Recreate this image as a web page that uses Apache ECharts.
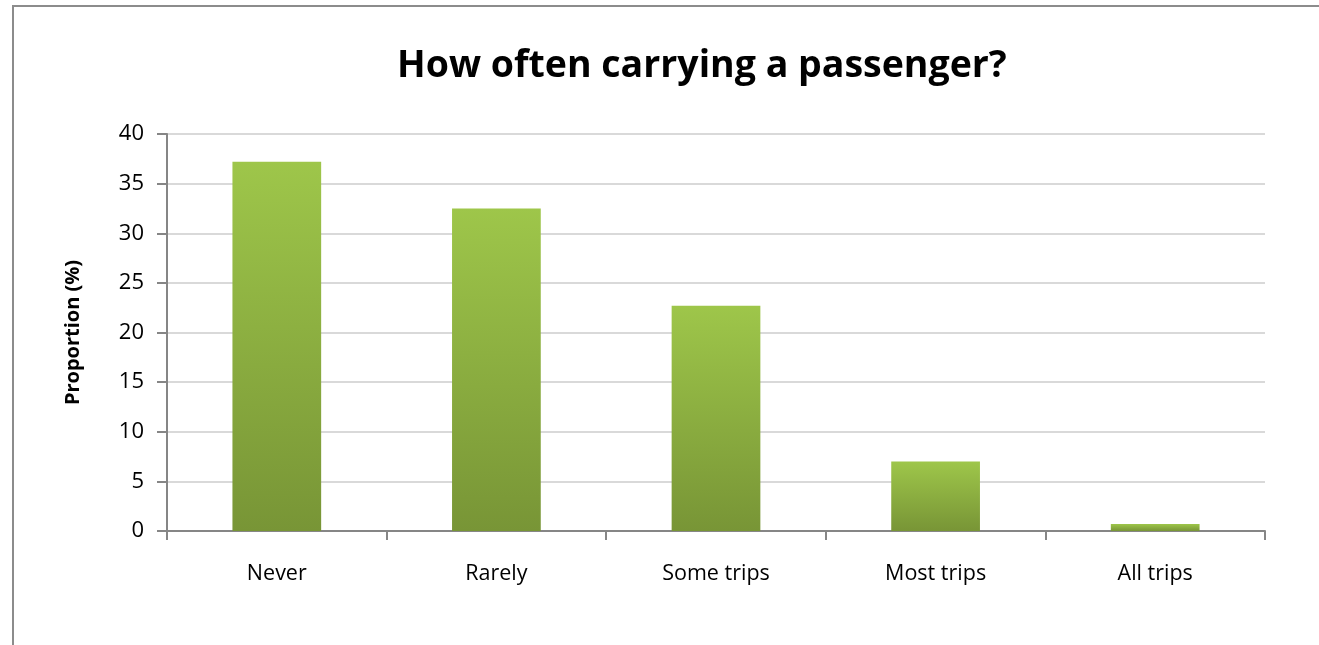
<!DOCTYPE html>
<html>
<head>
<meta charset="utf-8">
<script src="https://cdn.jsdelivr.net/npm/echarts@6/dist/echarts.min.js"></script>
<style>
  html, body { margin: 0; padding: 0; background: #fff; }
  #frame { position: absolute; left: 12px; top: 5px; width: 1310px; height: 645px;
           border-left: 2px solid #8c8c8c; border-top: 2px solid #8c8c8c; box-sizing: border-box; }
  #chart { position: absolute; left: 0; top: 0; width: 1319px; height: 645px; }
</style>
</head>
<body>
<div id="frame"></div>
<div id="chart"></div>
<script>
// Share of riders by how often they carry a passenger
const categories = ['Never', 'Rarely', 'Some trips', 'Most trips', 'All trips'];
const proportions = [37.2, 32.5, 22.7, 7.0, 0.7];
const yTicks = [0, 5, 10, 15, 20, 25, 30, 35, 40];

const chart = echarts.init(document.getElementById('chart'), null, { renderer: 'canvas' });
const fontFamily = '"Open Sans", Lato, sans-serif';

chart.setOption({
  animation: false,
  title: {
    text: 'How often carrying a passenger?',
    left: 392,
    top: 42,
    textStyle: { fontFamily, fontWeight: 'bold', fontSize: 37.5, color: '#000' }
  },
  grid: { left: 167, right: 54, top: 134, bottom: 114, containLabel: false },
  xAxis: {
    type: 'category',
    data: categories,
    axisLine: { lineStyle: { color: '#868686', width: 2 } },
    axisTick: { show: true, length: 9, alignWithLabel: false, lineStyle: { color: '#868686', width: 2 } },
    axisLabel: { fontFamily, fontSize: 21.5, color: '#000', margin: 32 }
  },
  yAxis: {
    type: 'value',
    min: yTicks[0],
    max: yTicks[yTicks.length - 1],
    interval: 5,
    name: 'Proportion (%)',
    nameLocation: 'middle',
    nameRotate: 90,
    nameGap: 84,
    nameTextStyle: { fontFamily, fontWeight: 'bold', fontSize: 20, color: '#000' },
    axisLine: { show: true, lineStyle: { color: '#868686', width: 2 } },
    axisTick: { show: true, length: 10, lineStyle: { color: '#868686', width: 2 } },
    axisLabel: { fontFamily, fontSize: 22, color: '#000', margin: 23 },
    splitLine: { lineStyle: { color: '#d9d9d9', width: 2 } }
  },
  series: [{
    type: 'bar',
    data: proportions,
    barWidth: '40.4%',
    itemStyle: {
      color: new echarts.graphic.LinearGradient(0, 0, 0, 1, [
        { offset: 0, color: '#9ec64a' },
        { offset: 1, color: '#789536' }
      ])
    }
  }]
});
</script>
</body>
</html>
